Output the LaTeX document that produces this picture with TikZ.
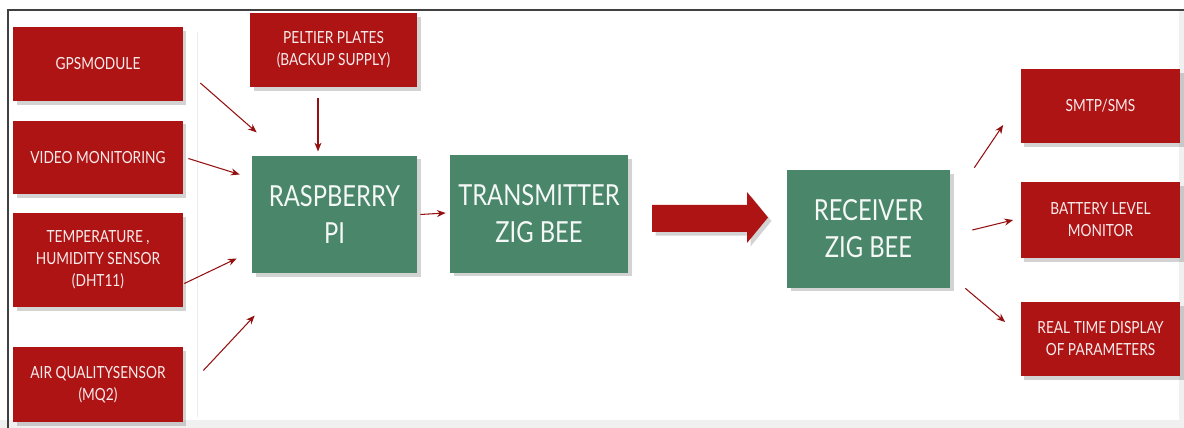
\documentclass[tikz,border=0pt]{standalone}
\usepackage{fontspec}
\setmainfont[FakeStretch=0.82]{Lato}
\usetikzlibrary{arrows.meta,shadows}

\definecolor{boxred}{RGB}{174,20,20}
\definecolor{boxgreen}{RGB}{74,134,106}

\tikzset{
	sensor/.style={fill=boxred, text=white!92!boxred, align=center, inner sep=2pt,
		minimum width=3.4cm, minimum height=1.48cm,
		font=\fontsize{9.5}{12.5}\selectfont,
		drop shadow={shadow xshift=2pt, shadow yshift=-2pt, opacity=0.35}},
	output/.style={sensor, minimum width=3.2cm},
	unit/.style={fill=boxgreen, text=white!94!boxgreen, align=center, inner sep=2pt,
		minimum width=3.3cm, minimum height=2.35cm,
		font=\fontsize{16.5}{21}\selectfont,
		drop shadow={shadow xshift=2pt, shadow yshift=-2pt, opacity=0.35}},
	flow/.style={draw=boxred!85!black, line width=0.6pt, -{Stealth[length=5pt,width=4pt]}}
}

\begin{document}
\begin{tikzpicture}[x=0.02cm, y=-0.02cm]
		\useasboundingbox (0,0) rectangle (1184,428);
		\fill[gray!12] (0,420) rectangle (1184,428);
		\fill[gray!12] (1179,10) rectangle (1184,420);
		\draw[black!75, line width=0.7pt] (8,428) -- (8,10) -- (1184,10);
		\draw[gray!15, line width=0.5pt] (197,32) -- (197,417);

		\draw (98,64) node [sensor] (gps) {GPSMODULE};
		\draw (98,157.5) node [sensor] (video) {VIDEO MONITORING};
		\draw (98,260) node [sensor, minimum height=1.88cm] (temp) {TEMPERATURE ,\\HUMIDITY SENSOR\\(DHT11)};
		\draw (98,384.5) node [sensor, minimum height=1.5cm] (air) {AIR QUALITYSENSOR\\(MQ2)};
		\draw (333.5,50) node [sensor, minimum width=3.34cm] (peltier) {PELTIER PLATES\\(BACKUP SUPPLY)};
		\draw (334.5,214.5) node [unit] (pi) {RASPBERRY\\PI};
		\draw (539,214) node [unit, minimum width=3.56cm, minimum height=2.36cm] (trans) {TRANSMITTER\\ZIG BEE};
		\draw (868.5,229) node [unit, minimum width=3.26cm, minimum height=2.36cm] (recv) {RECEIVER\\ZIG BEE};
		\draw (1100.5,106) node [output] (smtp) {SMTP/SMS};
		\draw (1100.5,220) node [output, minimum height=1.52cm] (battery) {BATTERY LEVEL\\MONITOR};
		\draw (1100.5,339) node [output] (display) {REAL TIME DISPLAY\\OF PARAMETERS};

		% big link between the two zig bee units
		\fill[boxred, drop shadow={shadow xshift=2pt, shadow yshift=-2pt, opacity=0.35}]
			(652,205) -- (747,205) -- (747,192) -- (768,217.5) -- (747,243) -- (747,232) -- (652,232) -- cycle;

		\draw 
			([shift={(17,19)}]gps.east) edge [flow] ([shift={(5,-23)}]pi.north west)
			([shift={(5,1)}]video.east) edge [flow] ([shift={(-12,-40)}]pi.west)
			([shift={(1,23.5)}]temp.east) edge [flow] ([shift={(-15,44)}]pi.west)
			([shift={(20,-14)}]air.east) edge [flow] ([shift={(3,42)}]pi.south west)
			([shift={(-15.5,11)}]peltier.south) edge [flow] ([shift={(-16.5,-4)}]pi.north)
			([shift={(3,0)}]pi.east) edge [flow] ([shift={(-4,-1)}]trans.west)
			([shift={(24,-2)}]recv.north east) edge [flow] ([shift={(-17,19)}]smtp.west)
			([shift={(22,1)}]recv.east) edge [flow] ([shift={(-7,0)}]battery.west)
			([shift={(15,0)}]recv.south east) edge [flow] ([shift={(-15,-17)}]display.west)
		;
	\end{tikzpicture}
\end{document}
